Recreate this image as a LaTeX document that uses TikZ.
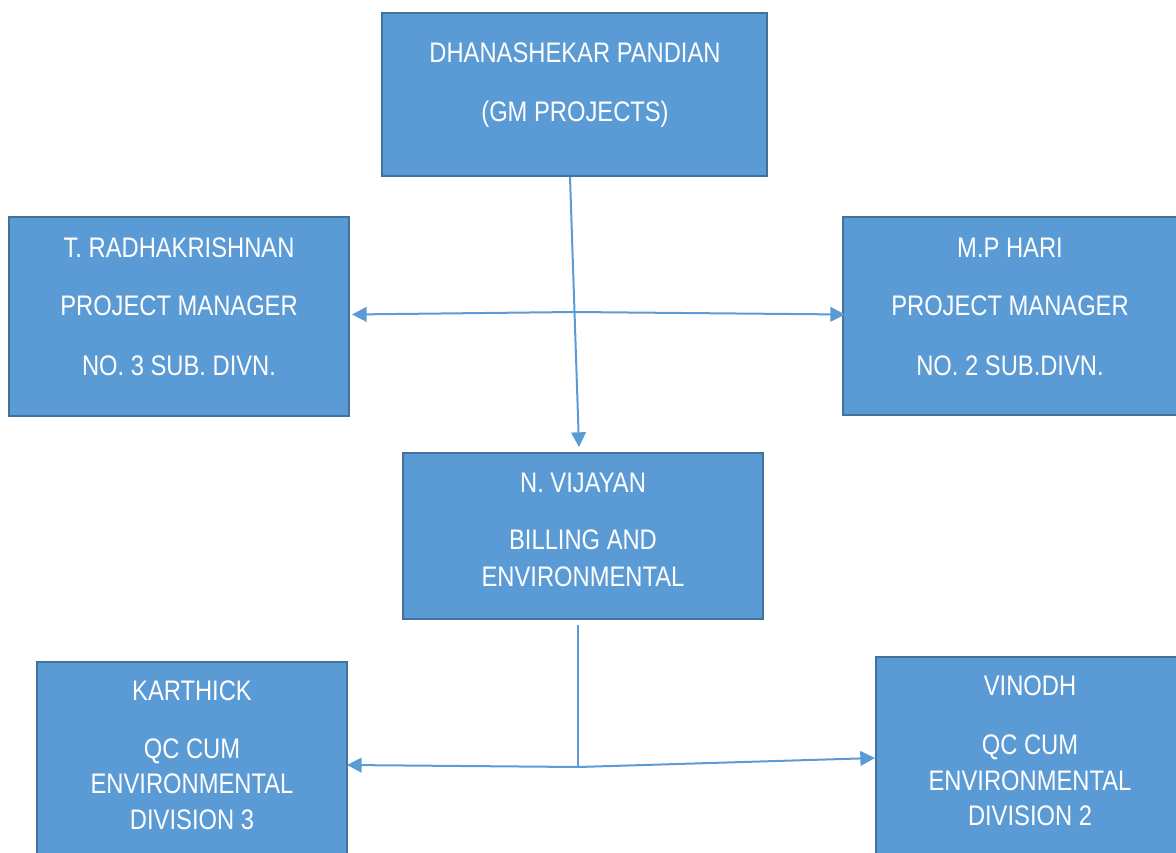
\documentclass[tikz,border=0pt]{standalone}
\usepackage{fontspec}
\newfontfamily\narrowsans[FakeStretch=0.84]{Liberation Sans}
\usetikzlibrary{arrows.meta}
\definecolor{boxfill}{HTML}{5B9BD5}
\definecolor{boxline}{HTML}{41719C}
\definecolor{linkblue}{HTML}{5B9BD5}
\tikzset{
  orgbox/.style={draw=boxline, fill=boxfill, line width=1.5pt, inner sep=0pt, rectangle},
  txt/.style={anchor=base, text=white, inner sep=0pt, font=\narrowsans\fontsize{21.2}{25}\selectfont},
  arr/.style={draw=linkblue, line width=1.5pt, -{Triangle[length=11pt,width=11pt]}},
  thinlink/.style={draw=linkblue, line width=0.8pt}
}
\begin{document}
\begin{tikzpicture}[x=0.75pt,y=-0.75pt]
\useasboundingbox (0,0) rectangle (1176,852);
\clip (0,0) rectangle (1176,852);
% boxes
\node[orgbox, minimum width={385*0.75pt}, minimum height={163*0.75pt}] (top) at (574.5,94.5) {};
\node[orgbox, minimum width={340*0.75pt}, minimum height={199*0.75pt}] (left) at (179,316.5) {};
\node[orgbox, minimum width={336*0.75pt}, minimum height={198*0.75pt}] (right) at (1011,316) {};
\node[orgbox, minimum width={360*0.75pt}, minimum height={166*0.75pt}] (mid) at (583,536) {};
\node[orgbox, minimum width={310*0.75pt}, minimum height={220*0.75pt}] (bl) at (192,772) {};
\node[orgbox, minimum width={310*0.75pt}, minimum height={230*0.75pt}] (br) at (1031,772) {};
% texts
\node[txt] (t1) at (575,63) {DHANASHEKAR PANDIAN};
\node[txt] (t2) at (575,122) {(GM PROJECTS)};
\node[txt] (l1) at (179,257) {T. RADHAKRISHNAN};
\node[txt] (l2) at (179,315) {PROJECT MANAGER};
\node[txt] (l3) at (179,375) {NO. 3 SUB. DIVN.};
\node[txt] (r1) at (1010,257) {M.P HARI};
\node[txt] (r2) at (1010,315) {PROJECT MANAGER};
\node[txt] (r3) at (1010,375) {NO. 2 SUB.DIVN.};
\node[txt] (m1) at (583,492) {N. VIJAYAN};
\node[txt] (m2) at (583,549) {BILLING AND};
\node[txt] (m3) at (583,586) {ENVIRONMENTAL};
\node[txt] (bl1) at (192,700) {KARTHICK};
\node[txt] (bl2) at (192,758) {QC CUM};
\node[txt] (bl3) at (192,793) {ENVIRONMENTAL};
\node[txt] (bl4) at (192,829) {DIVISION 3};
\node[txt] (br1) at (1030,695) {VINODH};
\node[txt] (br2) at (1030,754) {QC CUM};
\node[txt] (br3) at (1030,790) {ENVIRONMENTAL};
\node[txt] (br4) at (1030,825) {DIVISION 2};
% connector points
\coordinate (vstart) at (570,177);
\coordinate (vtip) at (579,447);
\coordinate (hj) at (574,312);
\coordinate (ltip) at (352,314.5);
\coordinate (rtip) at (845,314.5);
\coordinate (bstart) at (578,625);
\coordinate (bj) at (578,767);
\coordinate (bltip) at (347,765);
\coordinate (brtip) at (875,758);
% connectors
\draw[arr] (vstart) -- (vtip);
\draw[arr] (hj) -- (ltip);
\draw[arr] (hj) -- (rtip);
\draw[thinlink] (bstart) -- (bj);
\draw[arr] (bj) -- (bltip);
\draw[arr] (bj) -- (brtip);
\end{tikzpicture}
\end{document}
